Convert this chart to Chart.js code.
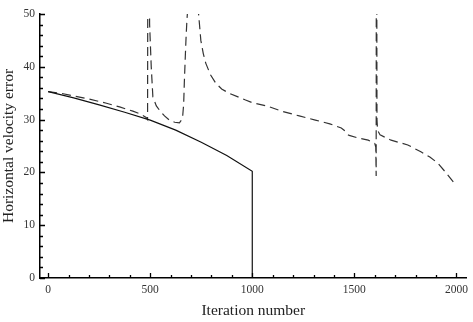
<!DOCTYPE html>
<html>
<head>
<meta charset="utf-8">
<script src="https://cdn.jsdelivr.net/npm/chart.js@4"></script>
<style>
  body { margin: 0; background: #fff; }
</style>
</head>
<body>
<canvas id="velChart" width="473" height="322"></canvas>
<script>
// solid line
var solidX = [0, 125, 250, 375, 500, 625, 750, 875, 1000, 1000];
var solidY = [35.3, 34.1, 32.8, 31.4, 29.9, 28.0, 25.7, 23.2, 20.2, 0];

// dashed line (values above 50 run off the top of the plot)
var dashX = [0, 60, 123, 200, 286, 350, 415, 450, 480, 487, 489, 493, 497, 505, 513, 530, 545, 570, 594, 620, 643, 655, 659, 664, 667, 671, 675, 680, 683, 686,
             730, 737, 748, 760, 772, 795, 821, 850, 886, 930, 967, 1000, 1070, 1144, 1230, 1309, 1380, 1436, 1450, 1462, 1475, 1520, 1568, 1600,
             1605, 1607, 1608, 1609, 1611, 1614, 1626, 1680, 1762, 1826, 1870, 1908, 1950, 1997];
var dashY = [35.3, 35.0, 34.5, 33.9, 33.1, 32.4, 31.6, 31.1, 30.4, 30.0, 80, 80, 48, 40, 34.3, 32.6, 31.8, 30.7, 29.9, 29.5, 29.4, 30.0, 30.6, 33.0, 36.9, 41, 45, 49, 50.5, 80,
             80, 50, 45, 42.5, 40.7, 38.5, 36.9, 35.8, 35.0, 34.3, 33.7, 33.2, 32.6, 31.6, 30.7, 29.9, 29.2, 28.4, 28.0, 27.3, 27.0, 26.5, 26.1, 25.5,
             24.8, 19.3, 80, 80, 30.0, 28.0, 27.1, 26.1, 25.2, 23.9, 22.9, 21.8, 19.9, 17.6];

var xTicks = [0, 500, 1000, 1500, 2000];
var yTicks = [0, 10, 20, 30, 40, 50];

function toPoints(xs, ys) {
    var pts = [];
    for (var i = 0; i < xs.length; i++) {
        pts.push({x: xs[i], y: ys[i]});
    }
    return pts;
}

// ticks pointing into the plot, major + minor
var inwardTicks = {
    id: 'inwardTicks',
    afterDraw: function(chart) {
        var ctx = chart.ctx;
        var xs = chart.scales.x;
        var ys = chart.scales.y;
        var area = chart.chartArea;
        ctx.save();
        ctx.strokeStyle = '#000';
        ctx.lineWidth = 1.3;
        ctx.beginPath();
        for (var v = 0; v <= 2000; v += 100) {
            var px = Math.round(xs.getPixelForValue(v)) + 0.5;
            var len = (v % 500 === 0) ? 5 : 3;
            ctx.moveTo(px, area.bottom);
            ctx.lineTo(px, area.bottom - len);
        }
        for (var w = 0; w <= 50; w += 2) {
            var py = Math.round(ys.getPixelForValue(w)) + 0.5;
            var len2 = (w % 10 === 0) ? 5 : 3;
            ctx.moveTo(area.left, py);
            ctx.lineTo(area.left + len2, py);
        }
        ctx.stroke();
        ctx.restore();
    }
};

var tickFont = {family: 'Liberation Serif', size: 11.5};
var titleFont = {family: 'Liberation Serif', size: 15.5};
var plainNum = function(v) { return String(v); };

var ctx = document.getElementById('velChart');
var velChart = new Chart(ctx, {
    type: 'line',
    data: {
        datasets: [{
            data: toPoints(solidX, solidY),
            borderColor: '#111',
            borderWidth: 1.2,
            pointRadius: 0,
            tension: 0
        }, {
            data: toPoints(dashX, dashY),
            borderColor: '#333',
            borderWidth: 1.2,
            borderDash: [9, 5],
            pointRadius: 0,
            tension: 0
        }]
    },
    options: {
        responsive: false,
        animation: false,
        layout: {
            padding: {top: 14, right: 5, left: 0, bottom: 0}
        },
        plugins: {
            legend: {display: false},
            tooltip: {enabled: false}
        },
        scales: {
            x: {
                type: 'linear',
                min: -40,
                max: 2050,
                afterBuildTicks: function(scale) {
                    scale.ticks = xTicks.map(function(v) { return {value: v}; });
                },
                afterFit: function(scale) { scale.height = 44; },
                grid: {display: true, drawOnChartArea: false, drawTicks: false},
                border: {display: true, color: '#000', width: 1.5},
                ticks: {font: tickFont, color: '#333', padding: 5, maxRotation: 0, callback: plainNum},
                title: {display: true, text: 'Iteration number', font: titleFont, color: '#222', padding: {top: 0, bottom: 2}}
            },
            y: {
                type: 'linear',
                min: 0,
                max: 50,
                afterBuildTicks: function(scale) {
                    scale.ticks = yTicks.map(function(v) { return {value: v}; });
                },
                afterFit: function(scale) { scale.width = 40; },
                grid: {display: true, drawOnChartArea: false, drawTicks: false},
                border: {display: true, color: '#000', width: 1.5},
                ticks: {font: tickFont, color: '#333', padding: 5, callback: plainNum},
                title: {display: true, text: 'Horizontal velocity error', font: titleFont, color: '#222', padding: {top: 0, bottom: 0}}
            }
        }
    },
    plugins: [inwardTicks]
});
</script>
</body>
</html>
